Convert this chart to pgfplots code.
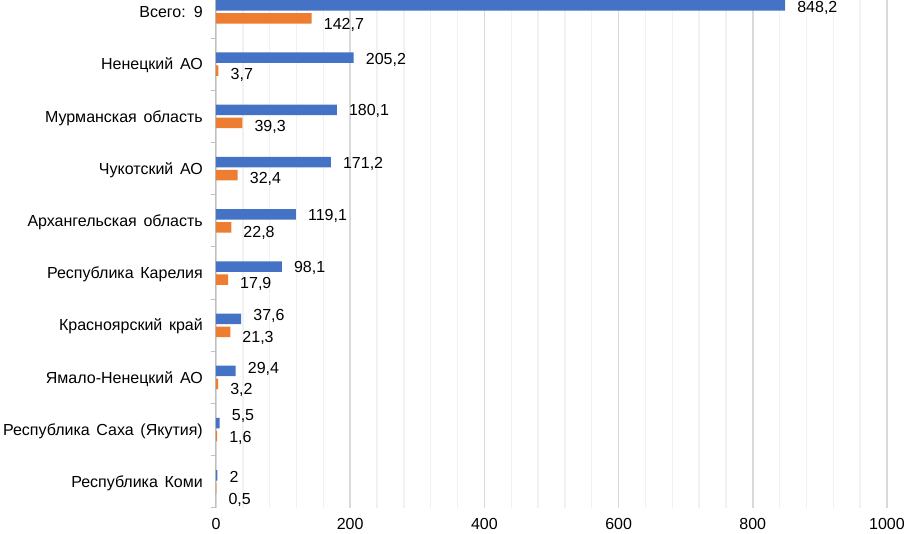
\documentclass[border=0pt]{standalone}
\usepackage{fontspec}
\setmainfont{Liberation Sans}
\newfontfamily\catfont[WordSpace=1.5]{Liberation Sans}
\usepackage{pgfplots}
\pgfplotsset{compat=1.18}
\usepackage{pgfplotstable}
\definecolor{blueC}{HTML}{4472C4}
\definecolor{orangeC}{HTML}{ED7D31}

\pgfplotstableread{
y x lab sh
9 848.2 848,2 -1.5
8 205.2 205,2 -1
7 180.1 180,1 0
6 171.2 171,2 -0.7
5 119.1 119,1 -1
4 98.1 98,1 -0.7
3 37.6 37,6 4
2 29.4 29,4 3
1 5.5 5,5 8
0 2 2 -2
}\blueT

\pgfplotstableread{
y x lab sh
9 142.7 142,7 -5
8 3.7 3,7 -3
7 39.3 39,3 -3
6 32.4 32,4 -3
5 22.8 22,8 -5
4 17.9 17,9 -3
3 21.3 21,3 -5.5
2 3.2 3,2 -5
1 1.6 1,6 -0.7
0 0.5 0,5 -11
}\orangeT

\begin{document}
\begin{tikzpicture}
\begin{axis}[
  width=671pt, height=508pt, scale only axis,
  xbar, bar width=10.5pt,
  xmin=0, xmax=1000, ymin=-0.5, ymax=9.23,
  enlargelimits=false,
  axis x line=bottom, axis y line=left,
  x axis line style={draw=none},
  y axis line style={draw=gray!50, line width=1pt, -},
  xtick={0,200,...,1000},
  minor x tick num=4,
  ytick={0,...,9},
  yticklabels={Республика Коми, Республика Саха (Якутия), Ямало-Ненецкий АО, Красноярский край, Республика Карелия, Архангельская область, Чукотский АО, Мурманская область, Ненецкий АО, Всего: 9},
  minor ytick={-0.5,0.5,...,8.5},
  major tick length=0pt, minor tick length=5pt,
  tick align=outside,
  minor x tick style={draw=none},
  minor y tick style={draw=gray!50, line width=1pt},
  xmajorgrids, xminorgrids,
  major grid style={gray!30, line width=1.4pt},
  minor grid style={gray!11, line width=1.4pt},
  tick label style={font=\fontsize{16}{19}\selectfont},
  yticklabel style={anchor=east, inner sep=0pt, xshift=-13pt, text height=14.4pt, text depth=3.2pt, font=\catfont\fontsize{16}{19}\selectfont},
  xticklabel style={anchor=north, inner sep=0pt, yshift=-7pt, text height=14.4pt, text depth=3.2pt},
  /pgf/number format/assume math mode=true,
  /pgf/number format/1000 sep={},
  nodes near coords,
  point meta=explicit symbolic,
  visualization depends on={\thisrow{sh} \as \lblsh},
  every node near coord/.append style={anchor=west, inner sep=0pt, xshift=12pt, yshift=\lblsh pt, text height=14.4pt, text depth=3.2pt, font=\fontsize{16}{19}\selectfont, color=black},
]
\addplot[fill=blueC, draw=none, bar shift=6.5pt] table[x=x, y=y, meta=lab]{\blueT};
\addplot[fill=orangeC, draw=none, bar shift=-6.5pt] table[x=x, y=y, meta=lab]{\orangeT};
\end{axis}
\pgfresetboundingbox
\useasboundingbox (-216pt,-26pt) rectangle (689pt,508pt);
\end{tikzpicture}
\end{document}
